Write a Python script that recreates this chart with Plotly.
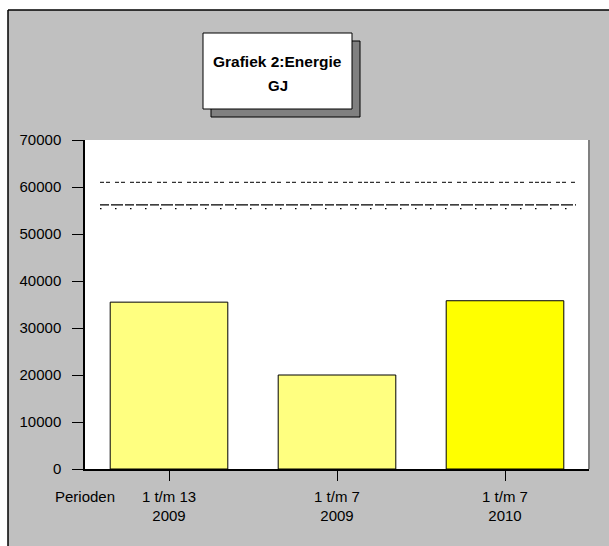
import plotly.graph_objects as go

# ---- data ----
categories = ["1 t/m 13<br>2009", "1 t/m 7<br>2009", "1 t/m 7<br>2010"]
energie_gj = [35500, 20000, 35800]
bar_colors = ["#FFFF80", "#FFFF80", "#FFFF00"]
ref_line_top = 61000
ref_line_mid = 56200
ref_line_dot = 55400
y_tick_vals = [0, 10000, 20000, 30000, 40000, 50000, 60000, 70000]
y_tick_text = ["0", "10000", "20000", "30000", "40000", "50000", "60000", "70000"]

W, H = 609, 546
ML, MR, MT, MB = 85, 20, 140, 77
PW = W - ML - MR
PH = H - MT - MB


def px_x(px):
    return (px - ML) / PW


def px_y(py):
    return (H - MB - py) / PH


FONT = "Liberation Sans, Arial, sans-serif"

fig = go.Figure()
fig.add_trace(go.Bar(
    x=categories, y=energie_gj, width=0.7,
    marker=dict(color=bar_colors, line=dict(color="black", width=1)),
    hoverinfo="x+y", showlegend=False,
))

shapes = []
# gray outer frame (fill), then left/top border lines
shapes.append(dict(type="rect", xref="paper", yref="paper",
                   x0=px_x(8), x1=px_x(700), y0=px_y(700), y1=px_y(10),
                   fillcolor="#C0C0C0", line=dict(width=0), layer="below"))
shapes.append(dict(type="line", xref="paper", yref="paper",
                   x0=px_x(8), x1=px_x(700), y0=px_y(10), y1=px_y(10),
                   line=dict(color="black", width=1.5), layer="below"))
shapes.append(dict(type="line", xref="paper", yref="paper",
                   x0=px_x(8), x1=px_x(8), y0=px_y(700), y1=px_y(10),
                   line=dict(color="black", width=1.5), layer="below"))
# white plot area
shapes.append(dict(type="rect", xref="paper", yref="paper",
                   x0=0, x1=1, y0=0, y1=1, fillcolor="white",
                   line=dict(width=0), layer="below"))
# right border of plot area
shapes.append(dict(type="line", xref="paper", yref="paper",
                   x0=1, x1=1, y0=0, y1=1, line=dict(color="#808080", width=2)))
# reference lines
lx0, lx1 = px_x(100), px_x(576)
shapes.append(dict(type="line", xref="paper", yref="y", x0=lx0, x1=lx1,
                   y0=ref_line_top, y1=ref_line_top,
                   line=dict(color="black", width=1,
                             dash="4px,2px,4px,5px,4px,2px,4px,5px,4px,2px,4px,2px,4px,2px,4px,5px")))
shapes.append(dict(type="line", xref="paper", yref="y", x0=lx0, x1=lx1,
                   y0=ref_line_mid, y1=ref_line_mid,
                   line=dict(color="black", width=1.3, dash="9px,2px,12px,2px")))
shapes.append(dict(type="line", xref="paper", yref="y", x0=lx0, x1=lx1,
                   y0=ref_line_dot, y1=ref_line_dot,
                   line=dict(color="black", width=1.3, dash="1.5px,13.5px")))
# title box with shadow
shapes.append(dict(type="rect", xref="paper", yref="paper",
                   x0=px_x(211), x1=px_x(360), y0=px_y(117), y1=px_y(41),
                   fillcolor="#808080", line=dict(color="black", width=1)))
shapes.append(dict(type="rect", xref="paper", yref="paper",
                   x0=px_x(203), x1=px_x(352), y0=px_y(109), y1=px_y(33),
                   fillcolor="white", line=dict(color="black", width=1)))

annotations = [
    dict(text="<b>Grafiek 2:Energie</b>", xref="paper", yref="paper",
         x=px_x(277.5), y=px_y(61), xanchor="center", yanchor="middle", showarrow=False,
         font=dict(family=FONT, size=15.5, color="black")),
    dict(text="<b>GJ</b>", xref="paper", yref="paper",
         x=px_x(277.5), y=px_y(86), xanchor="center", yanchor="middle", showarrow=False,
         font=dict(family=FONT, size=15, color="black")),
    dict(text="Perioden", xref="paper", yref="paper",
         x=px_x(85), y=px_y(497), xanchor="center", yanchor="middle", showarrow=False,
         font=dict(family=FONT, size=15, color="black")),
]

fig.update_layout(
    width=W, height=H,
    margin=dict(l=ML, r=MR, t=MT, b=MB, pad=0),
    paper_bgcolor="white", plot_bgcolor="white",
    shapes=shapes, annotations=annotations,
    font=dict(family=FONT, size=15, color="black"),
    bargap=0.3,
)
fig.update_xaxes(
    range=[-0.5, 2.5], showline=True, linecolor="black", linewidth=1.5,
    ticks="outside", ticklen=10, tickcolor="black", tickwidth=1,
    showgrid=False, zeroline=False, tickfont=dict(family=FONT, size=15),
    ticklabelstandoff=3,
)
fig.update_yaxes(
    range=[0, 70000], tickvals=y_tick_vals, ticktext=y_tick_text,
    showline=True, linecolor="black", linewidth=1.5,
    ticks="outside", ticklen=11, tickcolor="black", tickwidth=1,
    showgrid=False, zeroline=False, tickfont=dict(family=FONT, size=15),
    ticklabelstandoff=8,
)

fig.write_html("out.html", config={"displayModeBar": False},
               post_script="document.body.style.margin='0';document.body.style.overflow='hidden';")
